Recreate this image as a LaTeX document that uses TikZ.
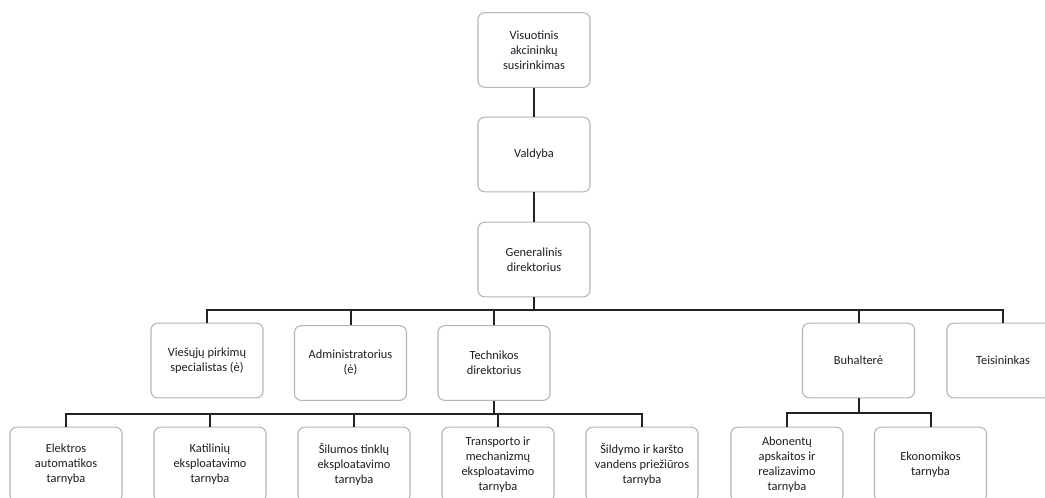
\documentclass[tikz,border=0pt]{standalone}
\usepackage{fontspec}
\setmainfont{Carlito}
\definecolor{boxline}{HTML}{B4B4B4}
\definecolor{conline}{HTML}{222222}
\definecolor{txt}{HTML}{1E1E28}
\begin{document}
\begin{tikzpicture}[x=0.75pt,y=-0.75pt,
  orgbox/.style={draw=boxline, line width=0.8pt, rounded corners=5pt, fill=white,
    minimum width=84pt, minimum height=56pt, inner sep=2pt, align=center,
    text=txt, font=\fontsize{9.3}{11.25}\selectfont},
  conn/.style={draw=conline, line width=1.5pt}]
\useasboundingbox (0,0) rectangle (1045,497);
\clip (0,0) rectangle (1045,497);
% level 0-1
\node[orgbox] (vas) at (534,50) {Visuotinis\\akcininkų\\susirinkimas};
\node[orgbox] (val) at (534,154.5) {Valdyba};
\node[orgbox] (gen) at (534,259.5) {Generalinis\\direktorius};
% level 2
\node[orgbox] (vie) at (207,360.5) {Viešųjų pirkimų\\specialistas (ė)};
\node[orgbox] (adm) at (350.5,363) {Administratorius\\(ė)};
\node[orgbox] (tech) at (494,363) {Technikos\\direktorius};
\node[orgbox] (buh) at (858.5,360.5) {Buhalterė};
\node[orgbox] (teis) at (1003,360.5) {Teisininkas};
% level 3
\node[orgbox] (ele) at (66,464.5) {Elektros\\automatikos\\tarnyba};
\node[orgbox] (kat) at (210,464.5) {Katilinių\\eksploatavimo\\tarnyba};
\node[orgbox] (sil) at (354,464.5) {Šilumos tinklų\\eksploatavimo\\tarnyba};
\node[orgbox] (tra) at (498,464.5) {Transporto ir\\mechanizmų\\eksploatavimo\\tarnyba};
\node[orgbox] (sld) at (642,464.5) {Šildymo ir karšto\\vandens priežiūros\\tarnyba};
\node[orgbox] (abo) at (787,464.5) {Abonentų\\apskaitos ir\\realizavimo\\tarnyba};
\node[orgbox] (eko) at (930.5,464.5) {Ekonomikos\\tarnyba};
% bus points
\coordinate (b1) at (534,310);
\coordinate (b2) at (494,414);
\coordinate (b3) at (858.5,413);
% connectors
\draw[conn] (vas.south) -- (val.north);
\draw[conn] (val.south) -- (gen.north);
\draw[conn] (gen.south) -- (b1);
\foreach \n in {vie,adm,tech,buh,teis} \draw[conn] (\n.north) |- (b1);
\draw[conn] (tech.south) -- (b2);
\foreach \n in {ele,kat,sil,tra,sld} \draw[conn] (\n.north) |- (b2);
\draw[conn] (buh.south) -- (b3);
\foreach \n in {abo,eko} \draw[conn] (\n.north) |- (b3);
\end{tikzpicture}
\end{document}
